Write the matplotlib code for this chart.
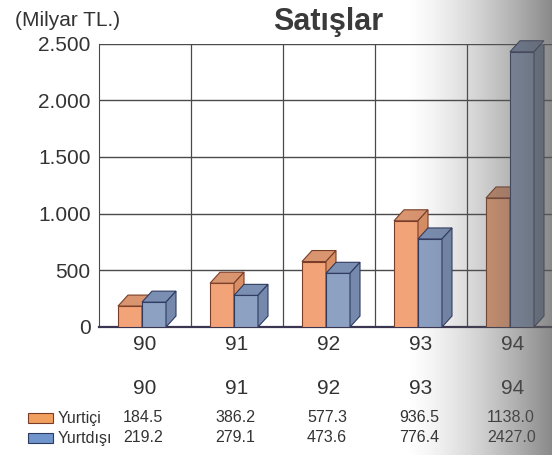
import numpy as np
import matplotlib
matplotlib.use('Agg')
import matplotlib.pyplot as plt
from matplotlib.patches import Polygon, Rectangle
from matplotlib.transforms import blended_transform_factory

# data (Milyar TL.)
years = ['90', '91', '92', '93', '94']
yurtici = [184.5, 386.2, 577.3, 936.5, 1138.0]
yurtdisi = [219.2, 279.1, 473.6, 776.4, 2427.0]
yurtici_txt = ['184.5', '386.2', '577.3', '936.5', '1138.0']
yurtdisi_txt = ['219.2', '279.1', '473.6', '776.4', '2427.0']
yticks = [0, 500, 1000, 1500, 2000, 2500]
ytick_labels = ['0', '500', '1.000', '1.500', '2.000', '2.500']

W, H = 552, 455
plt.rcParams['font.family'] = ['Liberation Sans', 'DejaVu Sans']
fig = plt.figure(figsize=(W / 100, H / 100), dpi=100)
fig.patch.set_facecolor('white')

# axes runs past the right edge of the page, as in the scan
ax_l, ax_b, ax_t = 99, 327, 43.5
ax_w = 460
ax = fig.add_axes([ax_l / W, 1 - ax_b / H, ax_w / W, (ax_b - ax_t) / H])
ax.set_xlim(0, 5)
ax.set_ylim(0, 2500)

grid_c = '#4a4a4a'
for v in yticks[1:]:
    ax.axhline(v, color=grid_c, lw=1.0, zorder=1)
for k in range(1, 5):
    ax.axvline(k, color=grid_c, lw=0.9, zorder=1)
for s in ['right', 'top']:
    ax.spines[s].set_visible(False)
ax.spines['left'].set_color(grid_c)
ax.spines['bottom'].set_color('#3a3550')
ax.spines['bottom'].set_linewidth(1.6)

ax.set_yticks(yticks)
ax.set_yticklabels(ytick_labels, fontsize=15, color='#333333')
ax.set_xticks([i + 0.5 for i in range(len(years))])
ax.set_xticklabels(years, fontsize=15, color='#333333')
ax.tick_params(length=0, pad=6)

# 3d-looking bars
px_x = ax_w / 5.0
px_y = (ax_b - ax_t) / 2500.0
dx = 10 / px_x
dy = 11 / px_y
bw = 24 / px_x


def bar3d(x0, h, front, top, side, edge):
    ax.add_patch(Rectangle((x0, 0), bw, h, facecolor=front, edgecolor=edge, lw=0.8, zorder=3))
    ax.add_patch(Polygon([(x0, h), (x0 + dx, h + dy), (x0 + bw + dx, h + dy), (x0 + bw, h)],
                         closed=True, facecolor=top, edgecolor=edge, lw=0.8, zorder=3, clip_on=False))
    ax.add_patch(Polygon([(x0 + bw, 0), (x0 + bw + dx, dy), (x0 + bw + dx, h + dy), (x0 + bw, h)],
                         closed=True, facecolor=side, edgecolor=edge, lw=0.8, zorder=3))


for i in range(len(years)):
    c = i + 0.5
    bar3d(c - 27 / px_x, yurtici[i], '#f2a478', '#d99470', '#d98e64', '#7a3e28')
    bar3d(c - 3 / px_x, yurtdisi[i], '#8da1c3', '#7b8fb2', '#7589ad', '#2f3a60')

# titles
fig.text(15 / W, 1 - 20 / H, '(Milyar TL.)', fontsize=15, color='#333333', va='center', ha='left')
fig.text(328 / W, 1 - 22 / H, 'Satışlar', fontsize=22, fontweight='bold', color='#3a3a3a',
         va='center', ha='center')

# table under the chart
tr = blended_transform_factory(ax.transData, fig.transFigure)
for i in range(len(years)):
    c = i + 0.5
    ax.text(c, 1 - 389 / H, years[i], transform=tr, fontsize=15, color='#333333',
            ha='center', va='center')
    ax.text(c - 0.02, 1 - 418 / H, yurtici_txt[i], transform=tr, fontsize=11.5, color='#333333',
            ha='center', va='center')
    ax.text(c - 0.02, 1 - 438 / H, yurtdisi_txt[i], transform=tr, fontsize=11.5, color='#333333',
            ha='center', va='center')

fig.patches.append(Rectangle((28 / W, 1 - 423 / H), 25 / W, 10 / H, transform=fig.transFigure,
                             facecolor='#f2a060', edgecolor='#7a3e28', lw=0.8))
fig.patches.append(Rectangle((28 / W, 1 - 443 / H), 25 / W, 10 / H, transform=fig.transFigure,
                             facecolor='#6f95cc', edgecolor='#2f3a60', lw=0.8))
fig.text(58 / W, 1 - 418 / H, 'Yurtiçi', fontsize=11.5, color='#333333', va='center', ha='left')
fig.text(58 / W, 1 - 438 / H, 'Yurtdışı', fontsize=11.5, color='#333333', va='center', ha='left')

# page-fold shadow on the right side of the scan
sh = fig.add_axes([405 / W, 0, 147 / W, 1], zorder=10)
ramp = np.linspace(0, 1, 256) ** 1.4
img = np.zeros((1, 256, 4))
img[..., :3] = 0.36
img[..., 3] = ramp * 0.72
sh.imshow(img, aspect='auto', extent=[0, 1, 0, 1])
sh.axis('off')

fig.savefig('out.png', dpi=100)
